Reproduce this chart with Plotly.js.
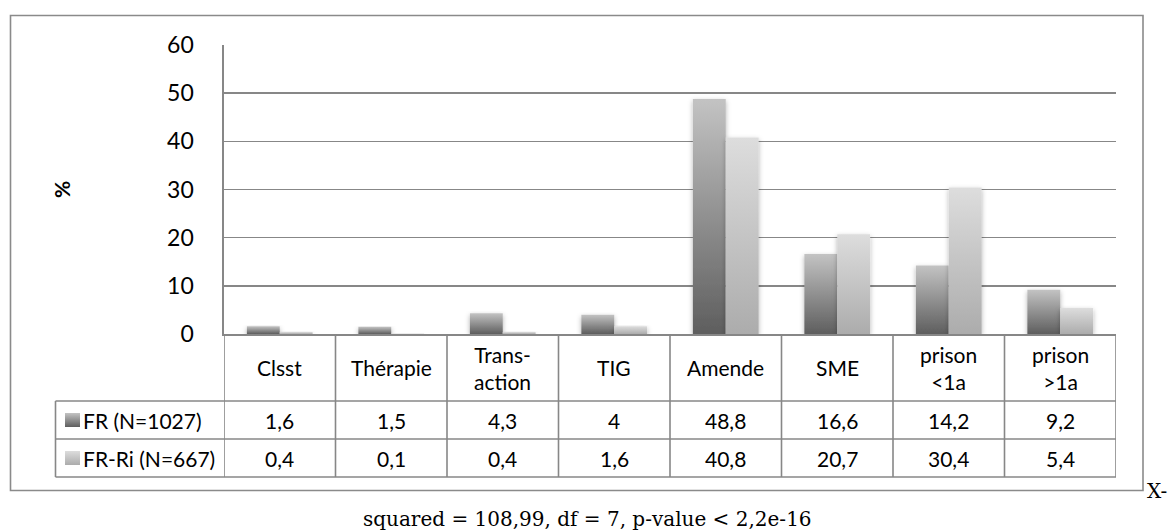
<!DOCTYPE html>
<html>
<head>
<meta charset="utf-8">
<script src="https://cdn.plot.ly/plotly-3.0.1.min.js"></script>
<style>html,body{margin:0;padding:0;background:#fff;}#chart{width:1175px;height:531px;}</style>
</head>
<body>
<div id="chart"></div>
<script>
// ---- data ----
const categories = ["Clsst", "Thérapie", "Trans-<br>action", "TIG", "Amende", "SME", "prison<br><1a", "prison<br>>1a"];
const seriesNames = ["FR (N=1027)", "FR-Ri (N=667)"];
const frValues = [1.6, 1.5, 4.3, 4, 48.8, 16.6, 14.2, 9.2];
const friValues = [0.4, 0.1, 0.4, 1.6, 40.8, 20.7, 30.4, 5.4];
const yTicks = [0, 10, 20, 30, 40, 50, 60];
const axisTitle = "%";
const captionRight = "X-";
const captionBottom = "squared = 108,99, df = 7, p-value < 2,2e-16";

// ---- geometry helpers (pixel -> paper) ----
const W = 1175, H = 531;
const L = 224, R = 1116, T = 45, B = 334;
const px = x => (x - L) / (R - L);
const py = y => (B - y) / (B - T);
const FONT = "Lato, 'Liberation Sans', sans-serif";
const SERIF = "'DejaVu Serif', serif";
const GRID = "#878787";
const TS = 21;

const idx = categories.map((_, i) => i);
const fmt = v => String(v).replace('.', ',');

const traces = [
  {type: 'bar', x: idx, y: frValues, name: seriesNames[0], marker: {color: '#8f8f8f', line: {width: 0}}},
  {type: 'bar', x: idx, y: friValues, name: seriesNames[1], marker: {color: '#c9c9c9', line: {width: 0}}}
];

const shapes = [];
const annotations = [];

// outer frame
shapes.push({type: 'rect', xref: 'paper', yref: 'paper', x0: px(10.5), x1: px(1143), y0: py(15.5), y1: py(490.5),
  line: {color: '#8a8a8a', width: 1.6}, fillcolor: 'rgba(0,0,0,0)', layer: 'below'});

// table rows (pixel y of lines)
const rowTop = 334, rowLabel = 401, rowFR = 439, rowBot = 477, legLeft = 55.5;
[rowLabel, rowFR, rowBot].forEach(y => shapes.push({type: 'line', xref: 'paper', yref: 'paper',
  x0: px(legLeft), x1: 1, y0: py(y), y1: py(y), line: {color: GRID, width: 1.6}}));
shapes.push({type: 'line', xref: 'paper', yref: 'paper', x0: px(legLeft), x1: px(legLeft), y0: py(rowLabel), y1: py(rowBot), line: {color: GRID, width: 1.6}});
for (let i = 0; i <= categories.length; i++) {
  shapes.push({type: 'line', xref: 'x', yref: 'paper', x0: i - 0.5, x1: i - 0.5, y0: py(rowTop), y1: py(rowBot), line: {color: GRID, width: 1.6}});
}
// legend keys
const keyShapeStart = shapes.length;
[[rowLabel, rowFR], [rowFR, rowBot]].forEach((r, k) => {
  const cy = (r[0] + r[1]) / 2;
  shapes.push({type: 'rect', xref: 'paper', yref: 'paper', x0: px(65), x1: px(80), y0: py(cy + 7), y1: py(cy - 7),
    line: {width: 0}, fillcolor: k === 0 ? '#8f8f8f' : '#c9c9c9'});
});

// category labels
categories.forEach((c, i) => annotations.push({x: i, xref: 'x', yref: 'paper', y: py((rowTop + rowLabel) / 2),
  text: c, showarrow: false, font: {family: FONT, size: TS, color: '#000'}, align: 'center', yanchor: 'middle'}));
// values
[frValues, friValues].forEach((vals, k) => {
  const r = k === 0 ? [rowLabel, rowFR] : [rowFR, rowBot];
  const cy = (r[0] + r[1]) / 2;
  vals.forEach((v, i) => annotations.push({x: i, xref: 'x', yref: 'paper', y: py(cy), text: fmt(v), showarrow: false,
    font: {family: FONT, size: TS, color: '#000'}, yanchor: 'middle'}));
  annotations.push({x: px(81), xref: 'paper', xanchor: 'left', yref: 'paper', y: py(cy), text: seriesNames[k], showarrow: false,
    font: {family: FONT, size: TS, color: '#000'}, yanchor: 'middle'});
});
// axis title
annotations.push({x: px(61), xref: 'paper', xanchor: 'center', yref: 'paper', y: py(190), yanchor: 'middle', text: '<b>' + axisTitle + '</b>', textangle: -90,
  showarrow: false, font: {family: FONT, size: 21, color: '#000'}});
// captions
annotations.push({x: px(1145), xref: 'paper', xanchor: 'left', yref: 'paper', y: py(491), yanchor: 'middle', text: captionRight,
  showarrow: false, font: {family: SERIF, size: 20, color: '#000'}});
annotations.push({x: px(587), xref: 'paper', xanchor: 'center', yref: 'paper', y: py(519), yanchor: 'middle', text: captionBottom,
  showarrow: false, font: {family: SERIF, size: 20, color: '#000'}});

const layout = {
  width: W, height: H,
  margin: {l: L, r: W - R, t: T, b: H - B, pad: 0},
  paper_bgcolor: '#fff', plot_bgcolor: '#fff',
  showlegend: false,
  barmode: 'group', bargap: 0.41, bargroupgap: 0,
  xaxis: {range: [-0.5, categories.length - 0.5], showticklabels: false, ticks: '', showgrid: false, zeroline: false,
    showline: true, linecolor: GRID, linewidth: 1.6, mirror: false, fixedrange: true},
  yaxis: {range: [0, 60], tickvals: yTicks, ticktext: yTicks.map(String), showgrid: true, gridcolor: GRID, gridwidth: 1.6,
    zeroline: false, showline: true, linecolor: GRID, linewidth: 1.6, ticks: '', ticklabelstandoff: 24,
    tickfont: {family: FONT, size: 23, color: '#000'}, fixedrange: true},
  shapes: shapes,
  annotations: annotations
};

Plotly.newPlot('chart', traces, layout, {displayModeBar: false, staticPlot: true}).then(gd => {
  const NS = 'http://www.w3.org/2000/svg';
  const svg = gd.querySelector('svg.main-svg');
  const defs = document.createElementNS(NS, 'defs');
  const mk = (id, c0, c1) => {
    const g = document.createElementNS(NS, 'linearGradient');
    g.setAttribute('id', id); g.setAttribute('x1', '0'); g.setAttribute('y1', '1'); g.setAttribute('x2', '0'); g.setAttribute('y2', '0');
    [[0, c0], [1, c1]].forEach(([o, c]) => {
      const s = document.createElementNS(NS, 'stop'); s.setAttribute('offset', o); s.setAttribute('stop-color', c); g.appendChild(s);
    });
    defs.appendChild(g);
  };
  mk('gFR', '#5e5e5e', '#c3c3c3');
  mk('gFRi', '#acacac', '#dddddd');
  const f = document.createElementNS(NS, 'filter');
  f.setAttribute('id', 'shd'); f.setAttribute('x', '-30%'); f.setAttribute('y', '-10%'); f.setAttribute('width', '160%'); f.setAttribute('height', '130%');
  const ds = document.createElementNS(NS, 'feDropShadow');
  ds.setAttribute('dx', '0'); ds.setAttribute('dy', '2'); ds.setAttribute('stdDeviation', '2.5'); ds.setAttribute('flood-color', '#000'); ds.setAttribute('flood-opacity', '0.3');
  f.appendChild(ds); defs.appendChild(f);
  svg.insertBefore(defs, svg.firstChild);
  const tr = gd.querySelectorAll('g.trace.bars');
  tr.forEach((t, k) => {
    t.querySelectorAll('path').forEach(p => { p.style.fill = k === 0 ? 'url(#gFR)' : 'url(#gFRi)'; p.setAttribute('filter', 'url(#shd)'); });
  });
  const sp = gd.querySelectorAll('.shapelayer path');
  sp.forEach(p => {
    const di = +p.getAttribute('data-index');
    if (di === keyShapeStart) p.style.fill = 'url(#gFR)';
    if (di === keyShapeStart + 1) p.style.fill = 'url(#gFRi)';
  });
});
</script>
</body>
</html>
